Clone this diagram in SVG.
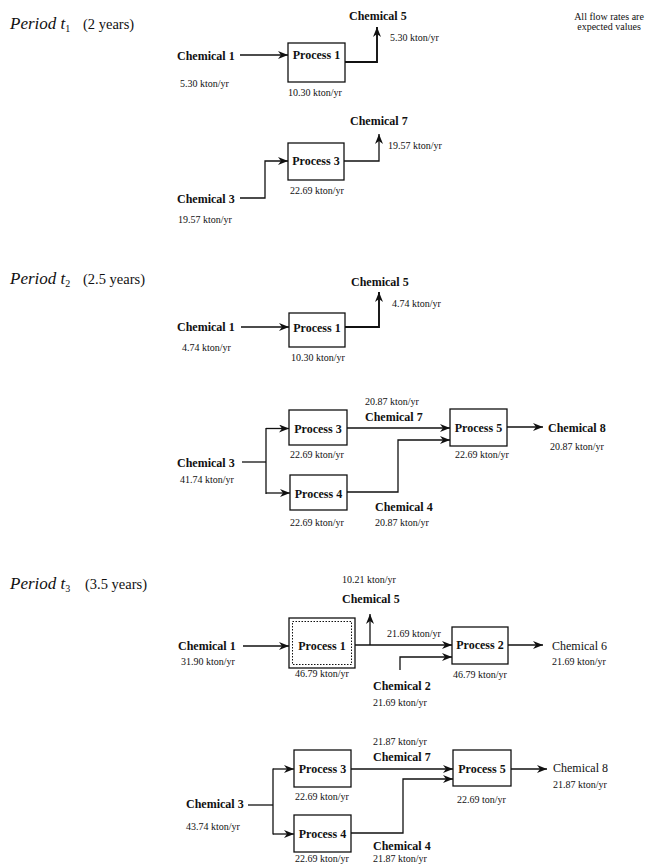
<svg xmlns="http://www.w3.org/2000/svg" width="647" height="865" viewBox="0 0 647 865">
<style>
text{font-family:"Liberation Serif","Times New Roman",serif;fill:#111}
.lbl{font-size:12px;font-weight:bold}
.chr{font-size:12px}
.val{font-size:10px}
.pt{font-size:12px;font-weight:bold;text-anchor:middle}
.per{font-size:17px;font-style:italic}
.yrs{font-size:14.5px}
.box{fill:#fff;stroke:#111;stroke-width:1.3}
.ln{fill:none;stroke:#111;stroke-width:1.3}
.arr{fill:none;stroke:#111;stroke-width:1.3;marker-end:url(#ah)}
.thk{stroke-width:1.9}
</style>
<defs>
<marker id="ah" markerUnits="userSpaceOnUse" markerWidth="11" markerHeight="8" refX="10" refY="4" orient="auto">
<path d="M0,0 L10,4 L0,8 L3,4 Z" fill="#111"/>
</marker>
</defs>
<rect width="647" height="865" fill="#fff"/>

<!-- Period labels -->
<g id="period1"><text x="10" y="29"><tspan class="per">Period t</tspan><tspan font-size="10" dy="3">1</tspan><tspan class="yrs" x="83" dy="-3">(2 years)</tspan></text></g>
<g id="note"><text class="val" x="609" y="20" text-anchor="middle">All flow rates are</text><text class="val" x="609" y="30" text-anchor="middle">expected values</text></g>
<g id="period2"><text x="10" y="284"><tspan class="per">Period t</tspan><tspan font-size="10" dy="3">2</tspan><tspan class="yrs" x="83" dy="-3">(2.5 years)</tspan></text></g>
<g id="period3"><text x="10" y="589"><tspan class="per">Period t</tspan><tspan font-size="10" dy="3">3</tspan><tspan class="yrs" x="85" dy="-3">(3.5 years)</tspan></text></g>

<!-- Connectors -->
<g id="connectors">
<!-- t1 -->
<line class="arr" x1="240" y1="55" x2="288" y2="55"/>
<polyline class="arr thk" points="345,62 377,62 377,27"/>
<polyline class="arr" points="240,198 265,198 265,161 288,161"/>
<polyline class="arr" points="344,161 379,161 379,134"/>
<!-- t2 -->
<line class="arr" x1="241" y1="327" x2="289" y2="327"/>
<polyline class="arr thk" points="345,327 379,327 379,292"/>
<line class="ln" x1="242" y1="462" x2="266" y2="462"/>
<line class="ln" x1="266" y1="428" x2="266" y2="494"/>
<line class="arr" x1="266" y1="428.5" x2="289" y2="428.5"/>
<line class="arr" x1="266" y1="493" x2="290" y2="493"/>
<line class="arr" x1="347" y1="428" x2="450" y2="428"/>
<polyline class="arr" points="347,492 398,492 398,440 450,440"/>
<line class="arr" x1="507" y1="427" x2="543" y2="427"/>
<!-- t3 -->
<line class="arr" x1="243" y1="646" x2="289" y2="646"/>
<line class="arr" x1="370" y1="645" x2="370" y2="614"/>
<line class="arr" x1="355" y1="645" x2="452" y2="645"/>
<polyline class="arr" points="400,670 400,657 452,657"/>
<line class="arr" x1="508" y1="645" x2="543" y2="645"/>
<line class="ln" x1="248" y1="805" x2="273" y2="805"/>
<line class="ln" x1="273" y1="768.5" x2="273" y2="834.5"/>
<line class="arr" x1="273" y1="769" x2="294" y2="769"/>
<line class="arr" x1="273" y1="834" x2="294" y2="834"/>
<line class="arr" x1="351" y1="769" x2="453" y2="769"/>
<polyline class="arr" points="351,833 403,833 403,779 453,779"/>
<line class="arr" x1="511" y1="769" x2="547" y2="769"/>
</g>

<!-- t1 nodes -->
<g id="t1-chem1"><text class="lbl" x="177" y="60">Chemical 1</text><text class="val" x="180" y="87">5.30 kton/yr</text></g>
<g id="t1-proc1"><rect class="box" x="288" y="43" width="57" height="39"/><text class="pt" x="316.5" y="59">Process 1</text><text class="val" x="288" y="96">10.30 kton/yr</text></g>
<g id="t1-chem5"><text class="lbl" x="349" y="20">Chemical 5</text><text class="val" x="390" y="41">5.30 kton/yr</text></g>
<g id="t1-chem3"><text class="lbl" x="177" y="203">Chemical 3</text><text class="val" x="178" y="223">19.57 kton/yr</text></g>
<g id="t1-proc3"><rect class="box" x="288" y="143" width="56" height="37"/><text class="pt" x="316" y="165">Process 3</text><text class="val" x="290" y="194">22.69 kton/yr</text></g>
<g id="t1-chem7"><text class="lbl" x="350" y="125">Chemical 7</text><text class="val" x="388" y="149">19.57 kton/yr</text></g>

<!-- t2 nodes -->
<g id="t2-chem1"><text class="lbl" x="177" y="331">Chemical 1</text><text class="val" x="182" y="351">4.74 kton/yr</text></g>
<g id="t2-proc1"><rect class="box" x="289" y="313" width="56" height="34"/><text class="pt" x="317" y="332">Process 1</text><text class="val" x="291" y="361">10.30 kton/yr</text></g>
<g id="t2-chem5"><text class="lbl" x="351" y="286">Chemical 5</text><text class="val" x="392" y="307">4.74 kton/yr</text></g>
<g id="t2-chem3"><text class="lbl" x="177" y="467">Chemical 3</text><text class="val" x="180" y="483">41.74 kton/yr</text></g>
<g id="t2-proc3"><rect class="box" x="289" y="410" width="58" height="35"/><text class="pt" x="318" y="433">Process 3</text><text class="val" x="290" y="458">22.69 kton/yr</text></g>
<g id="t2-proc4"><rect class="box" x="290" y="475" width="57" height="35"/><text class="pt" x="318.5" y="498">Process 4</text><text class="val" x="290" y="526">22.69 kton/yr</text></g>
<g id="t2-chem7"><text class="val" x="365" y="405">20.87 kton/yr</text><text class="lbl" x="365" y="421">Chemical 7</text></g>
<g id="t2-chem4"><text class="lbl" x="375" y="511">Chemical 4</text><text class="val" x="375" y="526">20.87 kton/yr</text></g>
<g id="t2-proc5"><rect class="box" x="450" y="409" width="57" height="37"/><text class="pt" x="478.5" y="432">Process 5</text><text class="val" x="455" y="458">22.69 kton/yr</text></g>
<g id="t2-chem8"><text class="lbl" x="548" y="432">Chemical 8</text><text class="val" x="550" y="450">20.87 kton/yr</text></g>

<!-- t3 nodes -->
<g id="t3-chem1"><text class="lbl" x="178" y="650">Chemical 1</text><text class="val" x="181" y="665">31.90 kton/yr</text></g>
<g id="t3-proc1"><rect class="box" x="289" y="618" width="66" height="50"/><rect x="292.5" y="621.5" width="59" height="43" fill="none" stroke="#111" stroke-width="1" stroke-dasharray="1.5,1.5"/><text class="pt" x="322" y="650">Process 1</text><text class="val" x="295" y="677">46.79 kton/yr</text></g>
<g id="t3-chem5"><text class="val" x="342" y="583">10.21 kton/yr</text><text class="lbl" x="342" y="603">Chemical 5</text></g>
<g id="t3-flow"><text class="val" x="387" y="637">21.69 kton/yr</text></g>
<g id="t3-chem2"><text class="lbl" x="373" y="690">Chemical 2</text><text class="val" x="373" y="706">21.69 kton/yr</text></g>
<g id="t3-proc2"><rect class="box" x="452" y="627" width="56" height="37"/><text class="pt" x="480" y="649">Process 2</text><text class="val" x="453" y="678">46.79 kton/yr</text></g>
<g id="t3-chem6"><text class="chr" x="552" y="650">Chemical 6</text><text class="val" x="552" y="665">21.69 kton/yr</text></g>
<g id="t3-chem3"><text class="lbl" x="186" y="808">Chemical 3</text><text class="val" x="186" y="830">43.74 kton/yr</text></g>
<g id="t3-proc3"><rect class="box" x="294" y="750" width="57" height="37"/><text class="pt" x="322.5" y="773">Process 3</text><text class="val" x="295" y="800">22.69 kton/yr</text></g>
<g id="t3-proc4"><rect class="box" x="294" y="815" width="57" height="37"/><text class="pt" x="322.5" y="838">Process 4</text><text class="val" x="295" y="862">22.69 kton/yr</text></g>
<g id="t3-chem7"><text class="val" x="373" y="745">21.87 kton/yr</text><text class="lbl" x="373" y="761">Chemical 7</text></g>
<g id="t3-chem4"><text class="lbl" x="373" y="850">Chemical 4</text><text class="val" x="373" y="862">21.87 kton/yr</text></g>
<g id="t3-proc5"><rect class="box" x="453" y="750" width="58" height="36"/><text class="pt" x="482" y="773">Process 5</text><text class="val" x="457" y="803">22.69 ton/yr</text></g>
<g id="t3-chem8"><text class="chr" x="553" y="772">Chemical 8</text><text class="val" x="553" y="788">21.87 kton/yr</text></g>
</svg>
